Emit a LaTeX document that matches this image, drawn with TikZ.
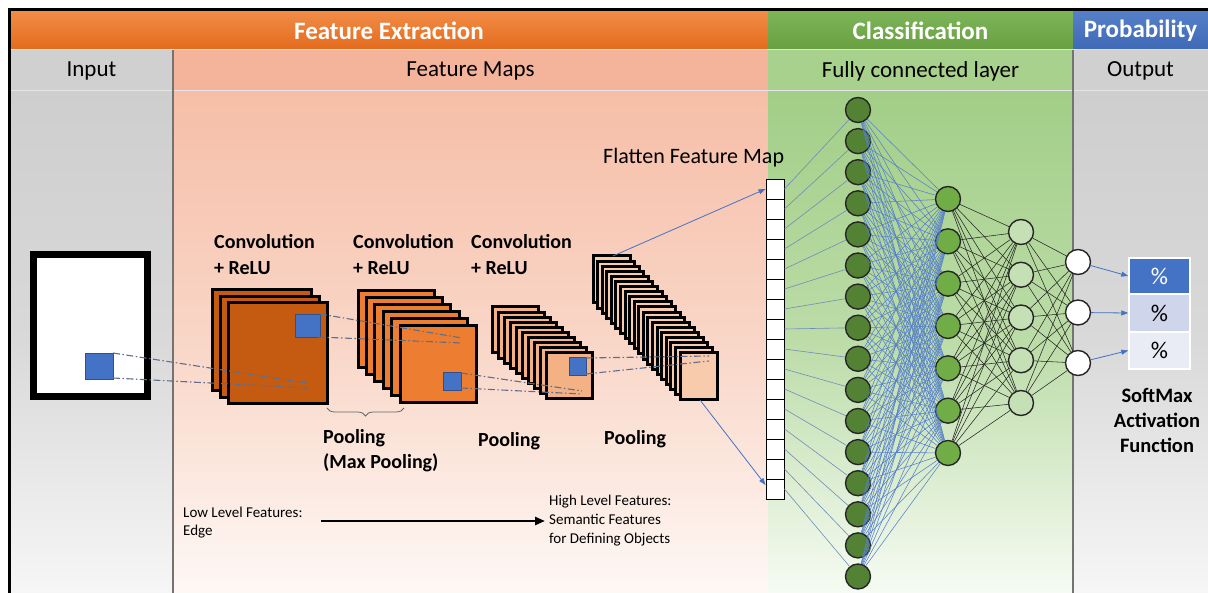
\documentclass[tikz,border=0pt]{standalone}
\usepackage{fontspec}
\setmainfont{Carlito}
\usetikzlibrary{arrows.meta,decorations.pathreplacing,calc}
\definecolor{orTop}{HTML}{F28D48}
\definecolor{orBot}{HTML}{E36A1B}
\definecolor{grHead}{HTML}{70AD47}
\definecolor{blHead}{HTML}{4472C4}
\definecolor{salRow}{HTML}{F4B39B}
\definecolor{grRow}{HTML}{A9D18E}
\definecolor{gyRow}{HTML}{D0D0D0}
\definecolor{salTop}{HTML}{F6BEA7}
\definecolor{salMid}{HTML}{F9D6C7}
\definecolor{salBot}{HTML}{FEF8F5}
\definecolor{grTop}{HTML}{A2CE87}
\definecolor{grMid}{HTML}{BCDCA8}
\definecolor{grBot}{HTML}{F6FBF3}
\definecolor{gyTop}{HTML}{CECECE}
\definecolor{gyMid}{HTML}{D9D9D9}
\definecolor{gyBot}{HTML}{F6F6F6}
\definecolor{cOne}{HTML}{C55A11}
\definecolor{cTwo}{HTML}{ED7D31}
\definecolor{cThree}{HTML}{F4B183}
\definecolor{cFour}{HTML}{F8CBAD}
\definecolor{sqBlue}{HTML}{4472C4}
\definecolor{dashCol}{HTML}{5F6E8E}
\definecolor{nOne}{HTML}{548235}
\definecolor{nTwo}{HTML}{70AD47}
\definecolor{nThree}{HTML}{C5E0B4}
\definecolor{boxA}{HTML}{4472C4}
\definecolor{boxB}{HTML}{CFD5EA}
\definecolor{boxC}{HTML}{E9EBF5}
\definecolor{linkBlue}{HTML}{4472C4}
\definecolor{linkGray}{HTML}{6F8DB8}
\begin{document}
\begin{tikzpicture}[x=1pt,y=-1pt,
  headtxt/.style={font=\fontsize{25}{28}\selectfont\bfseries, text=white, inner sep=0},
  rowtxt/.style={font=\fontsize{23}{26}\selectfont, text=black, inner sep=0},
  lbl/.style={font=\fontsize{20}{24}\selectfont\bfseries, inner sep=0, anchor=base west},
  small/.style={font=\fontsize{15}{18}\selectfont, inner sep=0, anchor=base west},
  card/.style={draw=black, line width=3pt},
  thincard/.style={draw=black, line width=3pt},
  bluesq/.style={fill=sqBlue, draw=sqBlue!70!black, line width=0.5pt},
  dd/.style={dashCol, line width=1.1pt, dash pattern=on 7pt off 2.5pt on 1.5pt off 2.5pt},
  cell/.style={draw=black, fill=white, line width=0.9pt, minimum width=18, minimum height=20, inner sep=0},
  neuron/.style={circle, draw=black!85, line width=1.4pt, minimum size=25, inner sep=0},
  obox/.style={draw=white, line width=1.5pt, minimum width=61, inner sep=0, font=\fontsize{24}{28}\selectfont},
  barrow/.style={linkBlue, line width=0.8pt, -{Triangle[length=7pt,width=5pt]}},
  ]
\useasboundingbox (0,0) rectangle (1208,593);
\fill[white] (0,0) rectangle (1208,593);
% body columns
\shade[top color=gyTop, bottom color=gyBot, middle color=gyMid] (10,90) rectangle (173,593);
\shade[top color=salTop, bottom color=salBot, middle color=salMid] (173,90) rectangle (768,593);
\shade[top color=grTop, bottom color=grBot, middle color=grMid] (768,90) rectangle (1073,593);
\shade[top color=gyTop, bottom color=gyBot, middle color=gyMid] (1073,90) rectangle (1208,593);
% header row 1
\shade[top color=orTop, bottom color=orBot] (10,10) rectangle (768,50);
\shade[top color=grHead!90!white, bottom color=grHead!92!black] (768,10) rectangle (1073,50);
\shade[top color=blHead!90!white, bottom color=blHead!92!black] (1073,10) rectangle (1208,50);
% header row 2
\fill[gyRow] (10,50) rectangle (173,90);
\fill[salRow] (173,50) rectangle (768,90);
\fill[grRow] (768,50) rectangle (1073,90);
\fill[gyRow] (1073,50) rectangle (1208,90);
\draw[white!75!gray, line width=1pt] (10,50) -- (1208,50);
\draw[white!80!gray, line width=0.8pt] (10,90) -- (1208,90);
% separators
\draw[black!55, line width=1.3pt] (173,50) -- (173,593);
\draw[black!55, line width=1.3pt] (1073,50) -- (1073,593);
% outer frame
\draw[black, line width=3.5pt] (9.5,593) -- (9.5,9.5) -- (1208,9.5);
% header texts
\node[headtxt] (hFE) at (389,31) {Feature Extraction};
\node[headtxt] (hCL) at (920.5,31) {Classification};
\node[headtxt] (hPR) at (1140.5,31) {Probability};
\node[rowtxt] (rIN) at (91.5,71) {Input};
\node[rowtxt] (rFM) at (470.5,71) {Feature Maps};
\node[rowtxt] (rFC) at (920.5,71) {Fully connected layer};
\node[rowtxt] (rOU) at (1140.5,71) {Output};
% input image
\draw[black, line width=7pt] (33.5,254.5) rectangle (147.5,396.5);
\fill[white] (37,258) rectangle (144,393);
\draw[bluesq] (85,353) rectangle (113,379);
% conv1 stack
\foreach \i in {0,1,2} {\draw[card, fill=cOne] ({212+8*\i},{290+6.5*\i}) rectangle ++(99,101);}
\draw[bluesq] (295,314) rectangle (320,337);
% conv2 stack
\foreach \i in {0,...,5} {\draw[card, fill=cTwo] ({358+8.4*\i},{291+7*\i}) rectangle ++(76,77);}
\draw[bluesq] (443,372) rectangle (461,390);
% conv3 stack
\foreach \i in {0,...,9} {\draw[thincard, fill=cThree] ({492+6*\i},{307+5.11*\i}) rectangle ++(46,46);}
\draw[bluesq] (569,357) rectangle (586,375);
% pooling stack
\foreach \i in {0,...,19} {\draw[thincard, fill=cFour] ({593+4.58*\i},{256+5.1*\i}) rectangle ++(37,47);}
% dash-dot projections
\coordinate (inA) at (113,353); \coordinate (inB) at (113,378);
\coordinate (c1A) at (307,383); \coordinate (c1B) at (307,388);
\coordinate (s1A) at (320,314); \coordinate (s1B) at (318,337);
\coordinate (c2A) at (462,338); \coordinate (c2B) at (462,343);
\coordinate (s2A) at (461,373); \coordinate (s2B) at (461,388);
\coordinate (c3A) at (582,391); \coordinate (c3B) at (582,394);
\coordinate (s3A) at (586,358); \coordinate (s3B) at (586,374);
\coordinate (c4A) at (709,356); \coordinate (c4B) at (709,361);
\draw[dd] (inA) -- (c1A); \draw[dd] (inB) -- (c1B);
\draw[dd] (s1A) -- (c2A); \draw[dd] (s1B) -- (c2B);
\draw[dd] (s2A) -- (c3A); \draw[dd] (s2B) -- (c3B);
\draw[dd] (s3A) -- (c4A); \draw[dd] (s3B) -- (c4B);
% brace
\coordinate (brL) at (327,408); \coordinate (brR) at (404,408);
\draw[black!60, line width=0.8pt, decorate, decoration={brace, mirror, amplitude=8pt}] (brL) -- (brR);
% labels
\node[lbl] (cv1a) at (214,249) {Convolution};
\node[lbl] (cv1b) at (214,275) {+ ReLU};
\node[lbl] (cv2a) at (353,249) {Convolution};
\node[lbl] (cv2b) at (353,275) {+ ReLU};
\node[lbl] (cv3a) at (471,249) {Convolution};
\node[lbl] (cv3b) at (471,275) {+ ReLU};
\node[lbl] (pl1a) at (323,444) {Pooling};
\node[lbl] (pl1b) at (323,469) {(Max Pooling)};
\node[lbl] (pl2) at (478,447) {Pooling};
\node[lbl] (pl3) at (604,445) {Pooling};
\node[font=\fontsize{22}{26}\selectfont, inner sep=0, anchor=base west] (ffm) at (603,164) {Flatten Feature Map};
% flatten vector
\foreach \i in {1,...,16} {\node[cell] (f\i) at (775,{169+20*\i}) {};}
% arrows into flatten
\coordinate (pooltop) at (613,256);
\coordinate (poolbot) at (700,400);
\draw[barrow] (pooltop) -- (f1.west);
\draw[barrow] (poolbot) -- ($(f16.west)+(0,-4)$);
% neurons
\foreach \i in {1,...,16} {\node[neuron, fill=nOne] (a\i) at (858,{110+31.1*(\i-1)}) {};}
\foreach \i in {1,...,7} {\node[neuron, fill=nTwo] (b\i) at (948,{199+42.33*(\i-1)}) {};}
\foreach \i in {1,...,5} {\node[neuron, fill=nThree] (c\i) at (1021,{232+42.75*(\i-1)}) {};}
\foreach \i/\y in {1/262,2/312.5,3/363} {\node[neuron, fill=white] (d\i) at (1078,\y) {};}
% connections
\foreach \i in {1,...,16} {\draw[linkGray, line width=0.6pt] (f\i.east) -- (a\i);}
\foreach \i in {1,...,16} {\foreach \j in {1,...,7} {\draw[linkBlue!90!white, line width=0.55pt] (a\i) -- (b\j);}}
\foreach \i in {1,...,7} {\foreach \j in {1,...,5} {\draw[black!85, line width=0.55pt] (b\i) -- (c\j);}}
\foreach \i in {1,...,5} {\foreach \j in {1,...,3} {\draw[black!85, line width=0.55pt] (c\i) -- (d\j);}}
% output boxes
\node[obox, fill=boxA, text=white, minimum height=36] (o1) at (1159.5,276) {\%};
\node[obox, fill=boxB, minimum height=38] (o2) at (1159.5,313) {\%};
\node[obox, fill=boxC, minimum height=37] (o3) at (1159.5,350.5) {\%};
\draw[barrow] (d1) -- (o1.west);
\draw[barrow] (d2) -- (o2.west);
\draw[barrow] (d3) -- (o3.west);
\node[font=\fontsize{20.5}{25}\selectfont\bfseries, inner sep=0, anchor=base] (sm1) at (1157,403) {SoftMax};
\node[font=\fontsize{20.5}{25}\selectfont\bfseries, inner sep=0, anchor=base] (sm2) at (1157,428) {Activation};
\node[font=\fontsize{20.5}{25}\selectfont\bfseries, inner sep=0, anchor=base] (sm3) at (1157,453) {Function};
% bottom feature arrow
\node[small] (low1) at (183,517) {Low Level Features:};
\node[small] (low2) at (183,535) {Edge};
\node[small] (hi1) at (549,505) {High Level Features:};
\node[small] (hi2) at (549,524) {Semantic Features};
\node[small] (hi3) at (549,543) {for Defining Objects};
\coordinate (arL) at (321,521); \coordinate (arR) at (545,521);
\draw[black, line width=2.6pt, -{Triangle[length=10pt,width=8pt]}] (arL) -- (arR);
\end{tikzpicture}
\end{document}
